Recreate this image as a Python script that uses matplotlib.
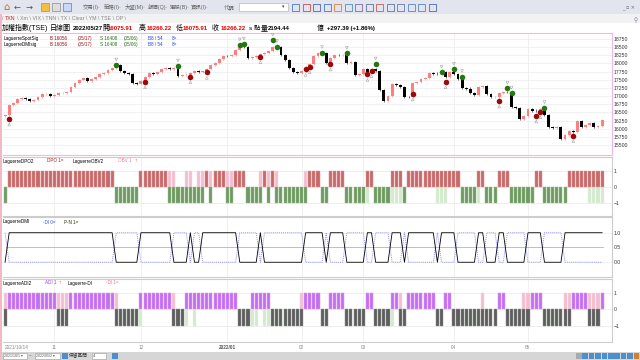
import numpy as np
import matplotlib
matplotlib.use("Agg")
import matplotlib.pyplot as plt
from matplotlib.patches import Rectangle

plt.rcParams['font.family'] = ['Liberation Sans', 'Noto Sans CJK TC', 'DejaVu Sans']

# 收盤價 (TSE 日線, 2021/10/14 ~ 2022/05/27)
closes = [16420, 16726, 16777, 16900, 16931, 16900, 16859, 16879, 16982, 17053,
          17063, 17002, 17043, 17084, 17104, 17114, 17288, 17411, 17493, 17544,
          17472, 17523, 17595, 17666, 17717, 17799, 17850, 17952, 17779, 17697,
          17677, 17390, 17380, 17472, 17595, 17697, 17690, 17728, 17820, 17871,
          17840, 17860, 17615, 17646, 17656, 17697, 17779, 17738, 17779, 17820,
          17952, 18024, 18126, 18228, 18220, 18259, 18412, 18515, 18494, 18157,
          18188, 18239, 18280, 18331, 18392, 18515, 18500, 18259, 18106, 17850,
          17748, 17697, 17779, 17850, 17983, 18228, 18310, 18330, 18024, 18157,
          18259, 18249, 18259, 18004, 18055, 17646, 17677, 17820, 17748, 17820,
          17779, 17186, 16859, 17002, 17370, 17339, 17268, 16982, 16961, 17411,
          17441, 17523, 17544, 17697, 17690, 17677, 17748, 17595, 17728, 17677,
          17513, 17237, 17230, 17104, 17033, 17268, 17319, 17063, 16961, 16982,
          17084, 17135, 17114, 16675, 16644, 16287, 16389, 16593, 16552, 16545,
          16593, 16420, 16041, 16011, 16041, 15673, 15806, 15939, 15909, 16246,
          16062, 16113, 16164, 16041, 16082, 16266]
first_open = 16390

# 訊號點
sell_idx = [27, 42, 57, 58, 65, 66, 77, 83, 90, 106, 109, 111, 122, 123, 131]
sell_px = [17952, 17922, 18566, 18596, 18719, 18515, 18331, 18310, 17983, 17728,
           17820, 17595, 17237, 17084, 16644]
buy_idx = [1, 34, 45, 49, 62, 73, 74, 79, 88, 89, 99, 107, 120, 129, 130, 138]
buy_px = [16297, 17441, 17595, 17728, 18208, 17820, 17901, 17983, 17666, 17779,
          17063, 17441, 16849, 16389, 16522, 15786]

# 指標 (run-length: 值, 根數)
dpo_runs = [(-1, 1), (1, 26), (-1, 6), (1, 7), (-1, 9), (1, 1), (-1, 1), (1, 3), (-1, 2), (1, 3),
            (-1, 4), (1, 1), (-1, 1), (1, 1), (-1, 8), (1, 3), (-1, 2), (1, 4), (-1, 5), (1, 2),
            (-1, 4), (1, 3), (-1, 1), (1, 13), (-1, 4), (1, 2), (-1, 3), (1, 3), (-1, 6), (1, 2),
            (-1, 6), (1, 9)]
obv_runs = [(-1, 1), (1, 26), (-1, 6), (1, 9), (-1, 2), (1, 2), (-1, 1), (1, 12), (-1, 3), (1, 5),
            (-1, 6), (1, 4), (-1, 2), (1, 4), (-1, 6), (1, 1), (-1, 8), (1, 7), (-1, 3), (1, 3),
            (-1, 5), (1, 1), (-1, 3), (1, 3), (-1, 6), (1, 2), (-1, 6), (1, 5), (-1, 4)]
pn_runs = [(0, 1), (1, 26), (0, 6), (1, 8), (0, 4), (1, 1), (0, 2), (1, 9), (0, 5), (1, 1),
           (0, 10), (1, 5), (0, 1), (1, 4), (0, 5), (1, 2), (0, 4), (1, 3), (0, 1), (1, 7),
           (0, 1), (1, 4), (0, 5), (1, 2), (0, 3), (1, 2), (0, 5), (1, 4), (0, 5), (1, 10)]
mdi_runs = [(1, 1), (0, 26), (1, 6), (0, 8), (1, 4), (0, 1), (1, 2), (0, 9), (1, 5), (0, 1),
            (1, 10), (0, 5), (1, 1), (0, 4), (1, 5), (0, 2), (1, 4), (0, 3), (1, 1), (0, 7),
            (1, 1), (0, 4), (1, 5), (0, 2), (1, 3), (0, 2), (1, 5), (0, 4), (1, 5), (0, 10)]
adi_runs = [(-1, 1), (1, 12), (-1, 3), (1, 11), (-1, 6), (1, 8), (-1, 3), (1, 13), (-1, 3), (1, 5),
            (-1, 8), (1, 4), (-1, 2), (1, 4), (-1, 5), (1, 2), (-1, 4), (1, 2), (-1, 2), (1, 7),
            (-1, 2), (1, 2), (-1, 11), (1, 2), (-1, 6), (1, 3), (-1, 7), (1, 4), (-1, 3), (1, 1)]
di_runs = [(1, 28), (-1, 6), (1, 8), (-1, 3), (1, 1), (-1, 1), (1, 10), (-1, 5), (1, 1), (-1, 9),
           (1, 5), (-1, 2), (1, 4), (-1, 5), (1, 2), (-1, 5), (1, 2), (-1, 1), (1, 7), (-1, 2),
           (1, 2), (-1, 7), (1, 1), (-1, 3), (1, 2), (-1, 4), (1, 5), (-1, 5), (1, 10)]

month_idx = [0, 12, 33, 54, 72, 87, 109, 127]
month_lbl = ['2021/10/14', '11', '12', '2022/01', '02', '03', '04', '05']
price_ticks = list(range(15500, 18751, 250))


def expand(runs):
    out = []
    for v, k in runs:
        out += [v] * k
    return np.array(out)


closes = np.array(closes)
n = len(closes)
opens = np.concatenate([[first_open], closes[:-1]])
x = np.arange(n)
dpo, obv = expand(dpo_runs), expand(obv_runs)
pn, mdi = expand(pn_runs), expand(mdi_runs)
adi, di = expand(adi_runs), expand(di_runs)

W, H = 640, 360
fig = plt.figure(figsize=(6.4, 3.6), dpi=100, facecolor='#ededed')


def px_axes(x0, y0, x1, y1):
    ax = fig.add_axes([x0 / W, 1 - y1 / H, (x1 - x0) / W, (y1 - y0) / H])
    ax.set_zorder(2)
    ax.patch.set_alpha(0)
    return ax


def ftext(xp, yp, s, **kw):
    kw.setdefault('fontsize', 3.6)
    kw.setdefault('va', 'center')
    kw.setdefault('zorder', 5)
    fig.text(xp / W, 1 - yp / H, s, **kw)


def frect(x0, y0, x1, y1, **kw):
    kw.setdefault('zorder', 1)
    fig.patches.append(Rectangle((x0 / W, 1 - y1 / H), (x1 - x0) / W, (y1 - y0) / H,
                                 transform=fig.transFigure, **kw))


# 視窗背景
frect(0, 0, 640, 14, facecolor='#e3e5ee', edgecolor='none', zorder=-3)
frect(0, 14, 640, 23, facecolor='#f2f2f2', edgecolor='none', zorder=-3)
frect(0, 23, 640, 352, facecolor='white', edgecolor='none', zorder=-3)
frect(0, 352, 640, 360, facecolor='#d6d6d6', edgecolor='none', zorder=-3)
frect(0, 14, 2, 360, facecolor='#f2b8c6', edgecolor='none', zorder=-2)

# 工具列
ftext(3, 7, '⌂', fontsize=7, color='#d06020', family='DejaVu Sans')
ftext(14, 7, '←', fontsize=6, color='#555', family='DejaVu Sans')
ftext(26, 7, '→', fontsize=6, color='#555', family='DejaVu Sans')
frect(41, 3, 49, 11, facecolor='#f0c040', edgecolor='#b08020', linewidth=0.4)
frect(52, 3, 60, 11, facecolor='#dddddd', edgecolor='#777', linewidth=0.4)
frect(63, 3, 71, 11, facecolor='#c8d8f8', edgecolor='#4060c0', linewidth=0.4)
for xp, s in [(83, '交易(I)·'), (104, '策略(I)·'), (125, '大盤(M)·'), (148, '報價(Q)·'),
              (170, '選股(B)·'), (191, '資訊(I)·'), (224, '代碼')]:
    ftext(xp, 7, s, fontsize=3.9, color='#666')
frect(239, 3, 288, 11, facecolor='white', edgecolor='#aaa', linewidth=0.4)
ftext(282, 7, '▾', fontsize=3.5, color='#444', family='DejaVu Sans')
for i, c in enumerate(['#3060c0', '#c03030', '#3050a0', '#3060c0', '#d07020', '#3080c0',
                       '#7050a0', '#406080', '#c04040', '#406090', '#5060a0', '#4070c0',
                       '#4070c0', '#3050b0']):
    frect(292 + i * 10.5, 4, 299 + i * 10.5, 11, facecolor='none', edgecolor=c, linewidth=0.5)
ftext(622, 7, '_ ▫ ×', fontsize=3.5, color='#666', family='DejaVu Sans')

# 頁籤
ftext(2, 19, '/', fontsize=3.8, color='#888')
ftext(5, 19, 'TXN', fontsize=3.8, color='#d02020')
ftext(17, 19, '\\ Xm \\ VIX \\ TNN \\ TX \\ Clear \\ YM \\ TSE \\ OP \\', fontsize=3.8, color='#888')
ftext(633, 20, '⚲', fontsize=4, color='#7080a0', family='DejaVu Sans')

# 資訊列
red = '#e00000'
for xp, s, c, w, fs in [(2, '加權指數(TSE)', 'black', 'normal', 5.0), (50, '日線圖', 'black', 'normal', 5.0),
                        (73, '2022/05/27', 'black', 'bold', 4.3), (102, '開', 'black', 'normal', 5.0),
                        (108, '16075.91', red, 'bold', 4.3), (139, '高', 'black', 'normal', 5.0),
                        (147, '16266.22', red, 'bold', 4.3), (176, '低', 'black', 'normal', 5.0),
                        (183, '16075.91', red, 'bold', 4.3), (212, '收', 'black', 'normal', 5.0),
                        (221, '16266.22', red, 'bold', 4.3), (249, 's 點', 'black', 'normal', 4.6),
                        (261, '量', 'black', 'normal', 5.0), (268, '2194.44', 'black', 'bold', 4.3),
                        (317, '億', 'black', 'normal', 5.0), (327, '+297.39 (+1.86%)', 'black', 'bold', 4.3)]:
    ftext(xp, 28.5, s, fontsize=fs, color=c, weight=w)

XL = (-0.5, n + 1.4)
up_c, dn_c = '#ff7f7f', '#000000'


def style_ax(ax, edge):
    ax.set_xlim(*XL)
    ax.yaxis.tick_right()
    ax.tick_params(axis='y', length=0, labelsize=3.7, pad=1.5, colors='#333')
    ax.tick_params(axis='x', length=0, labelbottom=False)
    for s in ax.spines.values():
        s.set_color(edge)
        s.set_linewidth(0.8)
    ax.spines['left'].set_visible(False)
    for m in month_idx[1:]:
        ax.axvline(m, color='#eeeeee', lw=0.6, zorder=0)


# 主圖 K 線
ax1 = px_axes(3, 33, 612, 155)
style_ax(ax1, '#f2b6ee')
ax1.set_ylim(15193, 18934)
ax1.set_yticks(price_ticks)
ax1.set_yticklabels([str(t) for t in price_ticks])
for t in price_ticks:
    ax1.axhline(t, color='#ececec', lw=0.5, zorder=0)
body_lo = np.minimum(opens, closes)
body_h = np.maximum(np.abs(closes - opens), 12)
cols = np.where(closes >= opens, up_c, dn_c)
ax1.vlines(x, body_lo - 35, body_lo + body_h + 35, colors=cols, lw=0.4, zorder=2)
ax1.bar(x, body_h, bottom=body_lo, width=0.7, color=cols, edgecolor='none', zorder=3)
ax1.scatter(sell_idx, sell_px, s=16, color='#24780f', zorder=4, linewidths=0)
ax1.scatter(buy_idx, buy_px, s=16, color='#9a0a0a', zorder=4, linewidths=0)
ax1.scatter(sell_idx, np.array(sell_px) + 170, s=4, marker='v', facecolors='none',
            edgecolors='#999', linewidths=0.35, zorder=4)
ax1.scatter(buy_idx, np.array(buy_px) - 170, s=4, marker='^', facecolors='none',
            edgecolors='#999', linewidths=0.35, zorder=4)

for yp, name in [(38.5, 'LaguerreSpotSig'), (44.5, 'LaguerreDMIsig')]:
    ftext(4, yp, name, fontsize=3.3)
    ftext(50, yp, 'B 16056', fontsize=3.3, color='#a01010')
    ftext(78, yp, '(05/17)', fontsize=3.3, color='#a01010')
    ftext(100, yp, 'S 16408', fontsize=3.3, color='#207010')
    ftext(124, yp, '(05/06)', fontsize=3.3, color='#207010')
    ftext(148, yp, 'B8 / 54', fontsize=3.3, color='#2040e0')
    ftext(172, yp, '8=', fontsize=3.3, color='#2040e0')

# DPO / OBV
ax2 = px_axes(3, 157, 612, 216)
style_ax(ax2, '#cccccc')
ax2.set_ylim(-1.84, 1.9)
ax2.set_yticks([1, 0, -1])
for t in [1, 0, -1]:
    ax2.axhline(t, color='#e8e8e8', lw=0.5, zorder=0)
ax2.bar(x, obv, width=0.75, color=np.where(obv > 0, '#f5bdd0', '#d3ebcc'),
        edgecolor=np.where(obv > 0, '#f9d6e2', '#e4f3e0'), linewidth=0.3, zorder=2)
ax2.bar(x, dpo, width=0.75, color=np.where(dpo > 0, '#c96a6a', '#6f9a62'),
        edgecolor=np.where(dpo > 0, '#dc9a9a', '#9cbc92'), linewidth=0.3, zorder=3)
ftext(3, 161, 'LaguerreDPO2', fontsize=3.3)
ftext(47, 161, 'DPO 1=', fontsize=3.3, color='#b01818')
ftext(73, 161, 'LaguerreOBV2', fontsize=3.3)
ftext(118, 161, 'OBV 1', fontsize=3.3, color='#f07aa0')
ftext(134, 161, '↑', fontsize=3.3, color='#e00000')

# DMI
ax3 = px_axes(3, 217, 612, 277)
style_ax(ax3, '#cccccc')
ax3.set_ylim(-0.5, 1.533)
ax3.set_yticks([1, 0.5, 0])
ax3.set_yticklabels(['1.0', '0.5', '0.0'])
for t in [1, 0]:
    ax3.axhline(t, color='#ececec', lw=0.5, zorder=0)
ax3.axhline(0.5, xmin=0.005, xmax=0.985, color='#dba4a4', lw=0.6, zorder=1)
ax3.plot(x, mdi, color='#8f8fff', lw=0.7, ls=(0, (1, 1)), zorder=2)
ax3.plot(x, pn, color='black', lw=0.6, zorder=3)
ftext(3, 222, 'LaguerreDMI', fontsize=3.3)
ftext(43, 222, '-DI 0=', fontsize=3.3, color='#3050e0')
ftext(64, 222, 'P-N 1=', fontsize=3.3, color='#303010')

# ADI / DI
ax4 = px_axes(3, 279, 612, 342)
style_ax(ax4, '#cccccc')
ax4.set_ylim(-2.0, 1.875)
ax4.set_yticks([1, 0, -1])
for t in [1, 0, -1]:
    ax4.axhline(t, color='#e8e8e8', lw=0.5, zorder=0)
ax4.bar(x, di, width=0.75, color=np.where(di > 0, '#f5bdd0', '#d3ebcc'),
        edgecolor=np.where(di > 0, '#f9d6e2', '#e4f3e0'), linewidth=0.3, zorder=2)
ax4.bar(x, adi, width=0.75, color=np.where(adi > 0, '#c46ff2', '#5e5e5e'),
        edgecolor=np.where(adi > 0, '#d9a2f7', '#959595'), linewidth=0.3, zorder=3)
ftext(3, 283, 'LaguerreADI2', fontsize=3.3)
ftext(45, 283, 'ADI 1', fontsize=3.3, color='#9a40e0')
ftext(58, 283, '↑', fontsize=3.3, color='#e00000')
ftext(68, 283, 'Laguerre-DI', fontsize=3.3)
ftext(106, 283, '-DI 1=', fontsize=3.3, color='#f070a0')

ax4.tick_params(axis='x', labelbottom=True, labelsize=3.4, labelcolor='#888', pad=2)
ax4.set_xticks(month_idx)
ax4.set_xticklabels(month_lbl)
for lab, txt in zip(ax4.get_xticklabels(), month_lbl):
    if txt == '2021/10/14':
        lab.set_ha('left')
    if txt == '2022/01':
        lab.set_color('#555')
        lab.set_weight('bold')

# 底部工具列
frect(3, 353, 27, 359, facecolor='white', edgecolor='#999', linewidth=0.4)
ftext(4, 356, '2021/10/1 ▾', fontsize=2.6, color='#555')
ftext(29, 356, '~', fontsize=3.3, color='#555')
frect(35, 353, 60, 359, facecolor='white', edgecolor='#999', linewidth=0.4)
ftext(36, 356, '2022/05/2 ▾', fontsize=2.6, color='#555')
frect(62, 353, 68, 359, facecolor='#4a90d0', edgecolor='none')
ftext(69, 356, '保留區間', fontsize=3.4, color='#333')
frect(92, 353, 106, 359, facecolor='white', edgecolor='#999', linewidth=0.4)
ftext(93, 356, '4', fontsize=3, color='#555')
frect(112, 353, 118, 359, facecolor='#4a90d0', edgecolor='none')
for i, c in enumerate(['#aaaaaa', '#4a90d0', '#4a90d0', '#4a90d0', '#4a90d0', '#4a90d0',
                       '#4a90d0', '#4a90d0', '#4a90d0', '#d08030']):
    frect(576 + i * 6.4, 353, 581.5 + i * 6.4, 359, facecolor=c, edgecolor='none')

fig.savefig('out.png', dpi=100, facecolor=fig.get_facecolor())
